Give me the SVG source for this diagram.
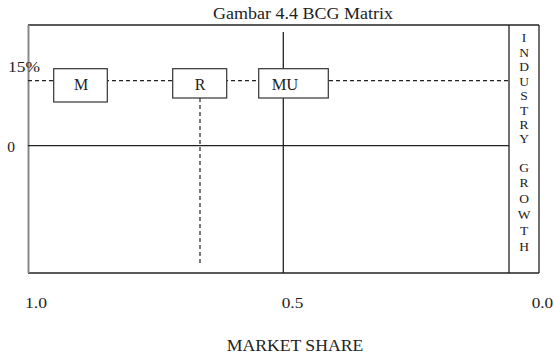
<svg xmlns="http://www.w3.org/2000/svg" width="554" height="358" viewBox="0 0 554 358">
<style>
text{font-family:"Liberation Serif","Times New Roman",serif;fill:#222}
.ln{stroke:#222;stroke-width:1.3;fill:none}
.dash{stroke:#222;stroke-width:1.2;stroke-dasharray:4,3;fill:none}
.box{fill:#fff;stroke:#333;stroke-width:1.2}
.lbl{font-size:16px;text-anchor:middle}
.ax{font-size:15.5px}
.v{font-size:13.5px;text-anchor:middle}
</style>
<rect width="554" height="358" fill="#fff"/>
<text x="213" y="18.5" font-size="16" textLength="180" lengthAdjust="spacingAndGlyphs">Gambar 4.4 BCG Matrix</text>
<g id="frame">
<line x1="28" y1="25" x2="539" y2="25" class="ln"/>
<line x1="539" y1="25" x2="539" y2="273" class="ln"/>
<line x1="28" y1="273" x2="539" y2="273" class="ln"/>
<line x1="28.5" y1="25" x2="28.5" y2="273" stroke="#888" stroke-width="2"/>
<line x1="509" y1="25" x2="509" y2="273" class="ln"/>
</g>
<g id="connectors">
<line x1="28" y1="145.7" x2="509" y2="145.7" class="ln"/>
<line x1="283.3" y1="32" x2="283.3" y2="273" class="ln"/>
<line x1="28" y1="80.7" x2="509" y2="80.7" class="dash"/>
<line x1="200" y1="98" x2="200" y2="265" class="dash"/>
</g>
<g id="M"><rect x="53.7" y="68.7" width="53.6" height="33.3" class="box"/><text x="81" y="90" class="lbl">M</text></g>
<g id="R"><rect x="172.7" y="68.7" width="54" height="29.3" class="box"/><text x="200" y="90" class="lbl">R</text></g>
<g id="MU"><rect x="258.7" y="68.7" width="69.6" height="29.3" class="box"/><text x="271.7" y="90" font-size="16" textLength="26.6" lengthAdjust="spacingAndGlyphs">MU</text></g>
<g id="axis-labels">
<text x="8" y="71.7" class="ax" textLength="32" lengthAdjust="spacingAndGlyphs">15%</text>
<text x="7.3" y="151.5" class="ax">0</text>
<text x="25" y="308.3" class="ax" textLength="22" lengthAdjust="spacingAndGlyphs">1.0</text>
<text x="281.7" y="308.3" class="ax" textLength="21.6" lengthAdjust="spacingAndGlyphs">0.5</text>
<text x="531.7" y="308.3" class="ax" textLength="21.5" lengthAdjust="spacingAndGlyphs">0.0</text>
<text x="226.7" y="351" font-size="16" textLength="136.6" lengthAdjust="spacingAndGlyphs">MARKET SHARE</text>
</g>
<g id="industry-growth">
<text x="524" y="42.3" class="v">I</text>
<text x="524" y="56.7" class="v">N</text>
<text x="524" y="71.2" class="v">D</text>
<text x="524" y="85.6" class="v">U</text>
<text x="524" y="100" class="v">S</text>
<text x="524" y="114.5" class="v">T</text>
<text x="524" y="128.9" class="v">R</text>
<text x="524" y="143.3" class="v">Y</text>
<text x="524" y="172" class="v">G</text>
<text x="524" y="187" class="v">R</text>
<text x="524" y="203" class="v">O</text>
<text x="524" y="219" class="v">W</text>
<text x="524" y="235" class="v">T</text>
<text x="524" y="251" class="v">H</text>
</g>
</svg>
